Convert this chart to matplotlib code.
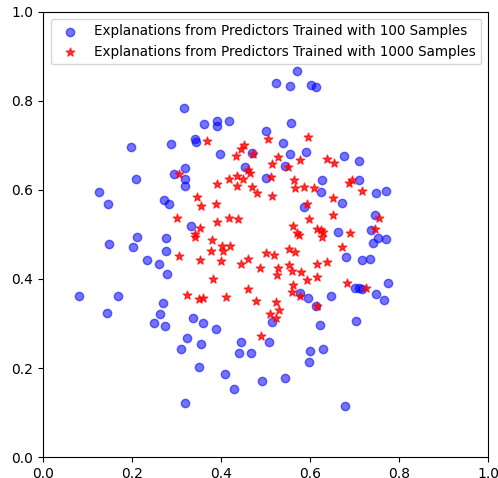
import numpy as np
import matplotlib
matplotlib.use("Agg")
import matplotlib.pyplot as plt

# explanations from predictors trained with 100 samples
x_100 = [0.318, 0.362, 0.342, 0.345, 0.289, 0.198, 0.319, 0.295, 0.319, 0.319,
         0.210, 0.127, 0.147, 0.273, 0.284, 0.570, 0.523, 0.556, 0.602, 0.613,
         0.391, 0.391, 0.419, 0.558, 0.501, 0.540, 0.471, 0.556, 0.592, 0.677,
         0.398, 0.455, 0.545, 0.502, 0.628, 0.626, 0.672, 0.586, 0.710, 0.711,
         0.749, 0.772, 0.333, 0.211, 0.150, 0.202, 0.278, 0.276, 0.235, 0.261,
         0.280, 0.082, 0.170, 0.270, 0.144, 0.263, 0.251, 0.274, 0.338, 0.360,
         0.325, 0.356, 0.311, 0.662, 0.682, 0.578, 0.595, 0.613, 0.648, 0.515,
         0.623, 0.389, 0.446, 0.509, 0.746, 0.738, 0.752, 0.771, 0.742, 0.718,
         0.734, 0.775, 0.701, 0.711, 0.716, 0.749, 0.766, 0.703, 0.351, 0.320,
         0.440, 0.468, 0.600, 0.630, 0.598, 0.410, 0.492, 0.544, 0.429, 0.679]
y_100 = [0.784, 0.748, 0.714, 0.708, 0.703, 0.696, 0.650, 0.636, 0.625, 0.610,
         0.625, 0.596, 0.569, 0.578, 0.569, 0.867, 0.840, 0.833, 0.835, 0.831,
         0.754, 0.744, 0.755, 0.751, 0.733, 0.706, 0.683, 0.681, 0.686, 0.676,
         0.681, 0.652, 0.653, 0.627, 0.623, 0.595, 0.570, 0.561, 0.664, 0.623,
         0.593, 0.597, 0.519, 0.494, 0.479, 0.472, 0.491, 0.463, 0.443, 0.433,
         0.411, 0.361, 0.361, 0.347, 0.323, 0.322, 0.300, 0.294, 0.312, 0.300,
         0.267, 0.254, 0.243, 0.505, 0.450, 0.368, 0.358, 0.340, 0.361, 0.303,
         0.297, 0.287, 0.258, 0.258, 0.544, 0.511, 0.493, 0.489, 0.480, 0.443,
         0.446, 0.390, 0.379, 0.379, 0.377, 0.366, 0.353, 0.306, 0.202, 0.122,
         0.234, 0.234, 0.238, 0.243, 0.214, 0.187, 0.171, 0.178, 0.153, 0.115]

# explanations from predictors trained with 1000 samples
x_1000 = [0.369, 0.307, 0.346, 0.356, 0.507, 0.595, 0.451, 0.446, 0.473, 0.434,
          0.529, 0.578, 0.638, 0.655, 0.516, 0.551, 0.460, 0.466, 0.436, 0.418,
          0.449, 0.513, 0.565, 0.392, 0.437, 0.470, 0.566, 0.587, 0.610, 0.482,
          0.515, 0.652, 0.688, 0.695, 0.389, 0.593, 0.716, 0.301, 0.354, 0.342,
          0.341, 0.380, 0.306, 0.354, 0.378, 0.323, 0.352, 0.359, 0.383, 0.653,
          0.419, 0.438, 0.392, 0.599, 0.563, 0.571, 0.576, 0.616, 0.625, 0.630,
          0.628, 0.403, 0.404, 0.421, 0.552, 0.567, 0.502, 0.520, 0.672, 0.400,
          0.462, 0.446, 0.489, 0.529, 0.527, 0.554, 0.560, 0.581, 0.615, 0.638,
          0.593, 0.616, 0.684, 0.563, 0.560, 0.461, 0.578, 0.412, 0.478, 0.615,
          0.524, 0.531, 0.511, 0.523, 0.491, 0.756, 0.746, 0.691, 0.727]
y_1000 = [0.710, 0.636, 0.584, 0.564, 0.714, 0.718, 0.700, 0.692, 0.680, 0.676,
          0.674, 0.667, 0.670, 0.660, 0.658, 0.652, 0.644, 0.638, 0.631, 0.625,
          0.624, 0.630, 0.622, 0.613, 0.608, 0.607, 0.604, 0.606, 0.604, 0.593,
          0.587, 0.581, 0.616, 0.622, 0.569, 0.569, 0.598, 0.536, 0.515, 0.500,
          0.494, 0.488, 0.452, 0.442, 0.463, 0.364, 0.355, 0.357, 0.400, 0.544,
          0.536, 0.535, 0.527, 0.535, 0.518, 0.503, 0.498, 0.513, 0.509, 0.505,
          0.494, 0.473, 0.463, 0.473, 0.468, 0.461, 0.458, 0.453, 0.472, 0.440,
          0.446, 0.434, 0.424, 0.424, 0.409, 0.431, 0.419, 0.416, 0.433, 0.438,
          0.398, 0.404, 0.390, 0.386, 0.371, 0.377, 0.362, 0.360, 0.351, 0.339,
          0.348, 0.330, 0.321, 0.312, 0.273, 0.538, 0.513, 0.503, 0.379]

fig = plt.figure(figsize=(4.98, 4.78), dpi=100)
ax = fig.add_axes([0.0857, 0.0439, 0.8943, 0.9311])

ax.scatter(x_100, y_100, color='blue', alpha=0.55, marker='o', s=36,
           label='Explanations from Predictors Trained with 100 Samples')
ax.scatter(x_1000, y_1000, color='red', alpha=0.75, marker='*', s=40,
           label='Explanations from Predictors Trained with 1000 Samples')

ax.set_xlim(0, 1)
ax.set_ylim(0, 1)
ax.legend(loc='upper right', fontsize=9.75)

fig.savefig('out.png', dpi=100)
